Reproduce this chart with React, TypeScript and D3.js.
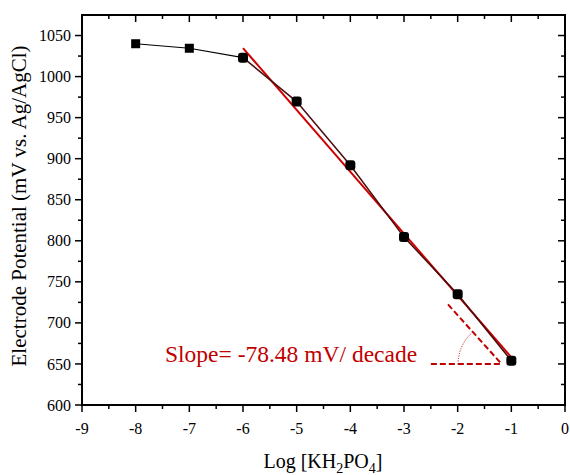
import React from "react";
import * as d3 from "d3";

const logConc = [-8, -7, -6, -5, -4, -3, -2, -1];
const potential = [1040, 1034.5, 1023, 969.5, 892, 804.5, 735, 654];
const xTicks = [-9, -8, -7, -6, -5, -4, -3, -2, -1, 0];
const yTicks = [600, 650, 700, 750, 800, 850, 900, 950, 1000, 1050];
const fitStart = -6;
const fitEnd = -1;
const slopeLabel = "Slope= -78.48 mV/ decade";
// annotation triangle (data coordinates)
const annHoriz = [[-2.5, 650], [-1.2, 650]];
const annDiag = [[-2.18, 722.5], [-1.21, 652]];

const W = 570, H = 475;
const M = { left: 82, right: 565, top: 15, bottom: 405 };
const FONT = "Liberation Serif, Times New Roman, serif";

export default function App() {
  const x = d3.scaleLinear().domain([-9, 0]).range([M.left, M.right]);
  const y = d3.scaleLinear().domain([600, 1075]).range([M.bottom, M.top]);

  const pts = logConc.map((v, i) => [v, potential[i]] as [number, number]);
  const fitPts = pts.filter((p) => p[0] >= fitStart && p[0] <= fitEnd);
  const mx = d3.mean(fitPts, (p) => p[0])!;
  const my = d3.mean(fitPts, (p) => p[1])!;
  const sxy = d3.sum(fitPts, (p) => (p[0] - mx) * (p[1] - my));
  const sxx = d3.sum(fitPts, (p) => (p[0] - mx) ** 2);
  const slope = sxy / sxx;
  const icpt = my - slope * mx;

  const line = d3.line<[number, number]>().x((d) => x(d[0])).y((d) => y(d[1]));
  const firstPart = pts.filter((p) => p[0] <= -6);
  const secondPart = pts.filter((p) => p[0] >= -6);

  const xMinor = d3.range(-9, 0.01, 0.5).filter((v) => !Number.isInteger(v));
  const yMinor = d3.range(625, 1075, 50);

  // arc
  const cx = x(annDiag[1][0]);
  const cy = y(annHoriz[0][1]);
  const ang = Math.atan2(y(annDiag[1][1]) - y(annDiag[0][1]), x(annDiag[1][0]) - x(annDiag[0][0]));
  const r = 42;
  const arcPath = d3.path();
  arcPath.arc(cx, cy, r, Math.PI, Math.PI + ang, false);

  const txt = { fontFamily: FONT } as React.CSSProperties;

  return (
    <svg width={W} height={H} style={{ position: "absolute", left: 0, top: 0, background: "#fff" }}>
      {/* fit line */}
      <line x1={x(fitStart)} y1={y(slope * fitStart + icpt)} x2={x(fitEnd)} y2={y(slope * fitEnd + icpt)}
        stroke="#d00000" strokeWidth={2} />
      {/* data line */}
      <path d={line(firstPart)!} fill="none" stroke="#000" strokeWidth={1.2} />
      <path d={line(secondPart)!} fill="none" stroke="#4a0d0d" strokeWidth={1.5} />
      {/* markers */}
      {pts.map((p, i) => {
        const s = p[0] >= -6 ? 10 : 9;
        return (
          <rect key={i} x={x(p[0]) - s / 2} y={y(p[1]) - s / 2} width={s} height={s} fill="#000" rx={p[0] >= -6 ? 3 : 0} />
        );
      })}
      {/* annotation */}
      <line x1={x(annHoriz[0][0])} y1={y(annHoriz[0][1])} x2={x(annHoriz[1][0])} y2={y(annHoriz[1][1])}
        stroke="#c00000" strokeWidth={2} strokeDasharray="6,3" />
      <line x1={x(annDiag[0][0])} y1={y(annDiag[0][1])} x2={x(annDiag[1][0])} y2={y(annDiag[1][1])}
        stroke="#c00000" strokeWidth={2} strokeDasharray="6,3" />
      <path d={arcPath.toString()} fill="none" stroke="#c00000" strokeWidth={1} strokeDasharray="1,1.5" />
      <text x={165} y={362} style={txt} fontSize={23.5} fill="#c00000">{slopeLabel}</text>

      {/* frame */}
      <rect x={M.left} y={M.top} width={M.right - M.left} height={M.bottom - M.top} fill="none" stroke="#000" strokeWidth={2} />
      {xTicks.map((t) => (
        <g key={"xt" + t}>
          <line x1={x(t)} x2={x(t)} y1={M.bottom} y2={M.bottom + 7} stroke="#000" strokeWidth={1.5} />
          <line x1={x(t)} x2={x(t)} y1={M.top} y2={M.top + 7} stroke="#000" strokeWidth={1.5} />
          <text x={x(t)} y={434} textAnchor="middle" style={txt} fontSize={16} fill="#000">{t}</text>
        </g>
      ))}
      {xMinor.map((t) => (
        <g key={"xm" + t}>
          <line x1={x(t)} x2={x(t)} y1={M.bottom} y2={M.bottom + 4} stroke="#000" strokeWidth={1.5} />
          <line x1={x(t)} x2={x(t)} y1={M.top} y2={M.top + 4} stroke="#000" strokeWidth={1.5} />
        </g>
      ))}
      {yTicks.map((t) => (
        <g key={"yt" + t}>
          <line x1={M.left - 7} x2={M.left} y1={y(t)} y2={y(t)} stroke="#000" strokeWidth={1.5} />
          <line x1={M.right - 7} x2={M.right} y1={y(t)} y2={y(t)} stroke="#000" strokeWidth={1.5} />
          <text x={71} y={y(t)} dy="0.35em" textAnchor="end" style={txt} fontSize={16} fill="#000">{t}</text>
        </g>
      ))}
      {yMinor.map((t) => (
        <g key={"ym" + t}>
          <line x1={M.left - 4} x2={M.left} y1={y(t)} y2={y(t)} stroke="#000" strokeWidth={1.5} />
          <line x1={M.right - 4} x2={M.right} y1={y(t)} y2={y(t)} stroke="#000" strokeWidth={1.5} />
        </g>
      ))}
      {/* axis titles */}
      <text x={323} y={468} textAnchor="middle" style={txt} fontSize={20} fill="#000">
        Log [KH<tspan fontSize={14} dy={5}>2</tspan><tspan dy={-5}>PO</tspan><tspan fontSize={14} dy={5}>4</tspan><tspan dy={-5}>]</tspan>
      </text>
      <text transform={`translate(26,206) rotate(-90)`} textAnchor="middle" style={txt} fontSize={21} fill="#000">
        Electrode Potential (mV vs. Ag/AgCl)
      </text>
    </svg>
  );
}
